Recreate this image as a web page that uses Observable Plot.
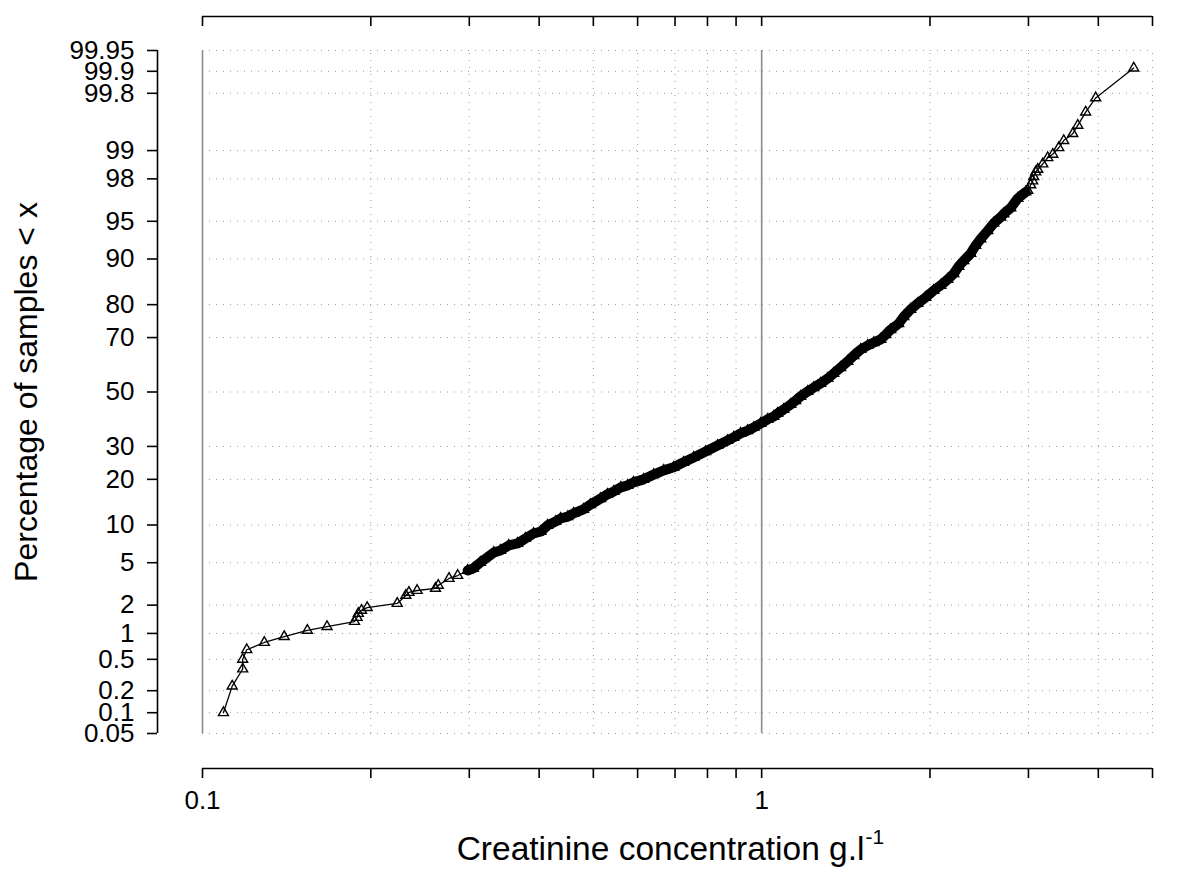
<!DOCTYPE html>
<html>
<head>
<meta charset="utf-8">
<script src="https://cdn.jsdelivr.net/npm/d3@7"></script>
<script src="https://cdn.jsdelivr.net/npm/@observablehq/plot@0.6"></script>
<style>
  html, body { margin: 0; padding: 0; background: #fff; }
  #chart svg { display: block; }
</style>
</head>
<body>
<div id="chart"></div>
<script>
// ---- data ----
const concentration = [
  0.109, 0.113, 0.118, 0.118, 0.120, 0.129, 0.140, 0.154, 0.167, 0.187,
  0.189, 0.190, 0.1925, 0.197, 0.223, 0.231, 0.234, 0.242, 0.261, 0.264,
  0.276, 0.286, 0.298, 0.305, 0.314, 0.332, 0.341, 0.353, 0.366, 0.378,
  0.391, 0.403, 0.414, 0.428, 0.437, 0.450, 0.461, 0.480, 0.494, 0.515,
  0.530, 0.544, 0.560, 0.576, 0.590, 0.615, 0.641, 0.668, 0.696, 0.725,
  0.756, 0.794, 0.834, 0.869, 0.891, 0.917, 0.944, 0.968, 0.996, 1.025,
  1.051, 1.068, 1.095, 1.127, 1.150, 1.174, 1.209, 1.239, 1.275, 1.313,
  1.345, 1.384, 1.425, 1.461, 1.504, 1.548, 1.587, 1.633, 1.667, 1.701,
  1.758, 1.795, 1.847, 1.901, 1.965, 2.031, 2.091, 2.152, 2.206, 2.251,
  2.298, 2.365, 2.414, 2.465, 2.537, 2.600, 2.676, 2.710, 2.789, 2.871,
  2.967, 2.991, 3.028, 3.053, 3.066, 3.091, 3.117, 3.182, 3.248, 3.316,
  3.399, 3.469, 3.601, 3.676, 3.797, 3.957, 4.628
];
const percentBelow = [
  0.1, 0.23, 0.38, 0.50, 0.65, 0.79, 0.92, 1.08, 1.19, 1.35,
  1.49, 1.64, 1.77, 1.89, 2.08, 2.50, 2.67, 2.79, 2.92, 3.12,
  3.62, 3.85, 4.27, 4.46, 5.02, 6.1, 6.34, 6.96, 7.22, 7.91,
  8.64, 8.95, 9.92, 10.6, 11.15, 11.5, 12.1, 12.9, 13.9, 15.2,
  16.2, 16.9, 17.9, 18.4, 19.2, 20.0, 21.3, 22.5, 23.4, 24.9,
  26.4, 28.3, 30.3, 32.0, 33.1, 34.5, 35.5, 36.6, 38.1, 39.6,
  40.7, 41.8, 43.3, 45.2, 46.7, 48.3, 50.2, 51.7, 53.3, 55.2,
  57.1, 59.3, 61.6, 63.7, 65.9, 67.3, 68.3, 69.4, 71.0, 72.6,
  74.5, 76.6, 78.7, 80.3, 81.9, 83.6, 84.8, 86.1, 87.3, 88.7,
  89.7, 90.9, 92.1, 93.0, 94.0, 94.8, 95.4, 95.7, 96.2, 96.9,
  97.3, 97.4, 97.7, 97.9, 98.1, 98.3, 98.4, 98.6, 98.8, 98.9,
  99.07, 99.23, 99.36, 99.49, 99.65, 99.77, 99.91
];
// range of percentages where the markers pile up into a solid band
const denseBand = [4.2, 97.3];
const yTickLabels = ["0.05", "0.1", "0.2", "0.5", "1", "2", "5", "10", "20", "30", "50",
  "70", "80", "90", "95", "98", "99", "99.8", "99.9", "99.95"];
const xTicks = [0.1, 0.2, 0.3, 0.4, 0.5, 0.6, 0.7, 0.8, 0.9, 1, 2, 3, 4, 5];
const xMajor = [0.1, 1];
const xTickLabels = {"0.1": "0.1", "1": "1"};
const xTitle = "Creatinine concentration g.l";
const xTitleSup = "-1";
const yTitle = "Percentage of samples < x";

// ---- normal probability transform (inverse normal CDF, Acklam) ----
function probit(p) {
  const a = [-3.969683028665376e+01, 2.209460984245205e+02, -2.759285104469687e+02, 1.383577518672690e+02, -3.066479806614716e+01, 2.506628277459239e+00];
  const b = [-5.447609879822406e+01, 1.615858368580409e+02, -1.556989798598866e+02, 6.680131188771972e+01, -1.328068155288572e+01];
  const c = [-7.784894002430293e-03, -3.223964580411365e-01, -2.400758277161838e+00, -2.549732539343734e+00, 4.374664141464968e+00, 2.938163982698783e+00];
  const d = [7.784695709041462e-03, 3.224671290700398e-01, 2.445134137142996e+00, 3.754408661907416e+00];
  const pl = 0.02425, ph = 1 - pl;
  if (p < pl) {
    const q = Math.sqrt(-2 * Math.log(p));
    return (((((c[0]*q+c[1])*q+c[2])*q+c[3])*q+c[4])*q+c[5]) / ((((d[0]*q+d[1])*q+d[2])*q+d[3])*q+1);
  }
  if (p <= ph) {
    const q = p - 0.5, r = q * q;
    return (((((a[0]*r+a[1])*r+a[2])*r+a[3])*r+a[4])*r+a[5])*q / (((((b[0]*r+b[1])*r+b[2])*r+b[3])*r+b[4])*r+1);
  }
  const q = Math.sqrt(-2 * Math.log(1 - p));
  return -(((((c[0]*q+c[1])*q+c[2])*q+c[3])*q+c[4])*q+c[5]) / ((((d[0]*q+d[1])*q+d[2])*q+d[3])*q+1);
}

const data = concentration.map((x, i) => ({x, p: percentBelow[i], z: probit(percentBelow[i] / 100)}));
const dense = data.filter(d => d.p >= denseBand[0] && d.p <= denseBand[1]);
const yTicks = yTickLabels.map(s => ({z: probit(+s / 100), label: s}));
const yTickZ = yTicks.map(t => t.z);
const labelOf = new Map(yTicks.map(t => [t.z, t.label]));
const zMin = d3.min(yTickZ), zMax = d3.max(yTickZ);
const xMinor = xTicks.filter(v => !xMajor.includes(v));
const xDomain = d3.extent(xTicks);

const font = "'Liberation Sans', Arial, Helvetica, sans-serif";

const chart = Plot.plot({
  width: 1188,
  height: 882,
  marginLeft: 202,
  marginRight: 36,
  marginTop: 50,
  marginBottom: 149,
  style: {fontFamily: font, fontSize: "26px", background: "#fff", color: "#000"},
  x: {type: "log", domain: xDomain},
  y: {type: "linear", domain: [zMin, zMax]},
  marks: [
    // dotted grid
    Plot.ruleY(yTickZ, {x1: xDomain[0], x2: xDomain[1], stroke: "#9a9a9a", strokeWidth: 1, strokeDasharray: "1,6"}),
    Plot.ruleX(xMinor, {y1: zMin, y2: zMax, stroke: "#9a9a9a", strokeWidth: 1, strokeDasharray: "1,6"}),
    // solid major verticals
    Plot.ruleX(xMajor, {y1: zMin, y2: zMax, stroke: "#8c8c8c", strokeWidth: 1.6}),
    // left axis (offset)
    Plot.ruleX([xDomain[0]], {y1: zMin, y2: zMax, dx: -45, stroke: "#000", strokeWidth: 1.6}),
    Plot.axisY(yTickZ, {anchor: "left", dx: -45, tickSize: 10, tickPadding: 13, strokeWidth: 1.6,
      tickFormat: z => labelOf.get(z), fontSize: 26, label: null}),
    // bottom axis (offset)
    Plot.ruleY([zMin], {x1: xDomain[0], x2: xDomain[1], dy: 35, stroke: "#000", strokeWidth: 1.6}),
    Plot.axisX(xTicks, {anchor: "bottom", dy: 35, tickSize: 10, tickPadding: 12, strokeWidth: 1.6,
      tickFormat: v => xTickLabels[String(v)] ?? "", fontSize: 26, label: null}),
    // top axis
    Plot.ruleY([zMax], {x1: xDomain[0], x2: xDomain[1], dy: -34, stroke: "#000", strokeWidth: 1.6}),
    Plot.axisX(xTicks, {anchor: "bottom", dy: -717, tickSize: 10, strokeWidth: 1.6,
      tickFormat: () => "", label: null}),
    // data: overlapping markers form a solid band where samples are dense
    Plot.line(dense, {x: "x", y: "z", stroke: "#000", strokeWidth: 10, strokeLinejoin: "round", strokeLinecap: "round"}),
    Plot.line(data, {x: "x", y: "z", stroke: "#000", strokeWidth: 1.3}),
    Plot.dot(data, {x: "x", y: "z", symbol: "triangle", r: 3.7, stroke: "#000", fill: "none", strokeWidth: 1.4}),
    // titles
    Plot.text([yTitle], {frameAnchor: "left", dx: -176, rotate: -90, textAnchor: "middle", fontSize: 32, fill: "#000"}),
    Plot.text([xTitle], {frameAnchor: "bottom", dx: 187, dy: 126, textAnchor: "end", fontSize: 33.5, fill: "#000"}),
    Plot.text([xTitleSup], {frameAnchor: "bottom", dx: 188, dy: 110, textAnchor: "start", fontSize: 21, fill: "#000"})
  ]
});
document.getElementById("chart").appendChild(chart);
</script>
</body>
</html>
